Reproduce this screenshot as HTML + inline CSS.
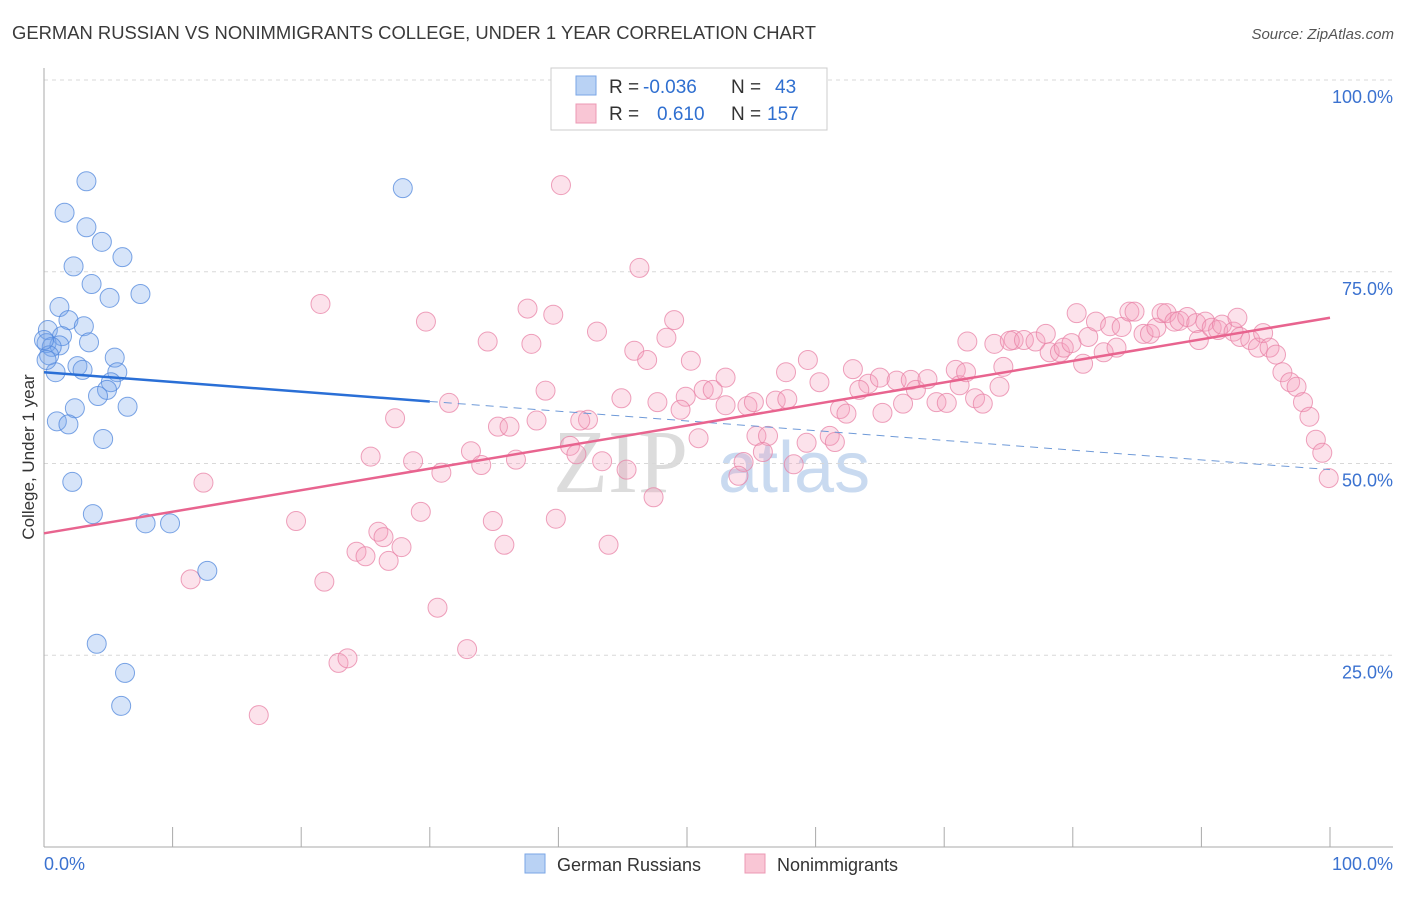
<!DOCTYPE html>
<html><head><meta charset="utf-8"><style>
body{margin:0;background:#fff;font-family:"Liberation Sans",sans-serif;}
</style></head><body>
<svg id="chart" width="1406" height="892" xmlns="http://www.w3.org/2000/svg" font-family="Liberation Sans, sans-serif">
<text x="12" y="39" font-size="18" fill="#3a3a3a" textLength="804" lengthAdjust="spacingAndGlyphs">GERMAN RUSSIAN VS NONIMMIGRANTS COLLEGE, UNDER 1 YEAR CORRELATION CHART</text>
<text x="1394" y="39" font-size="15" fill="#555" font-style="italic" text-anchor="end">Source: ZipAtlas.com</text>
<g>
<text x="553" y="492" font-size="90" fill="#dcdcdc" font-family="Liberation Serif, serif">ZIP</text>
<text x="718" y="492" font-size="72" fill="#c9daf0">atlas</text>
</g>
<g id="grid"></g>
<g id="axes"></g>
<g id="pts"></g>
<g id="lines"></g>
<text transform="translate(34,457) rotate(-90)" font-size="17" fill="#333" text-anchor="middle">College, Under 1 year</text>
<g>
<rect x="551" y="68" width="276" height="62" fill="#fff" stroke="#ccc"/>
<rect x="576" y="76" width="20" height="19" fill="#b9d2f4" stroke="#7aa6e6"/>
<rect x="576" y="104" width="20" height="19" fill="#f9c6d5" stroke="#ec98b4"/>
<text x="609" y="93" font-size="19" fill="#333">R =</text>
<text x="643" y="93" font-size="19" fill="#2f6fd0">-0.036</text>
<text x="731" y="93" font-size="19" fill="#333">N =</text>
<text x="775" y="93" font-size="19" fill="#2f6fd0">43</text>
<text x="609" y="120" font-size="19" fill="#333">R =</text>
<text x="657" y="120" font-size="19" fill="#2f6fd0">0.610</text>
<text x="731" y="120" font-size="19" fill="#333">N =</text>
<text x="767" y="120" font-size="19" fill="#2f6fd0">157</text>
</g>
<g>
<rect x="525" y="854" width="20" height="19" fill="#b9d2f4" stroke="#7aa6e6"/>
<text x="557" y="871" font-size="18" fill="#333">German Russians</text>
<rect x="745" y="854" width="20" height="19" fill="#f9c6d5" stroke="#ec98b4"/>
<text x="777" y="871" font-size="18" fill="#333">Nonimmigrants</text>
</g>
</svg>
<script>
const blueX=[3.3,1.6,3.3,4.5,6.1,2.3,3.7,5.1,7.5,1.2,1.9,3.1,0.3,1.4,0.2,1.2,3.5,0.6,5.5,2.6,0.9,3.0,5.7,5.2,4.9,4.2,2.4,6.5,1.0,1.9,4.6,2.2,3.8,7.9,9.8,12.7,4.1,6.3,6.0,27.9,0.4,0.0,0.2];
const blueY=[86.8,82.7,80.8,78.9,76.9,75.7,73.4,71.6,72.1,70.4,68.7,67.9,67.4,66.6,65.7,65.4,65.8,65.2,63.8,62.7,61.9,62.2,61.9,60.6,59.6,58.8,57.2,57.4,55.5,55.1,53.2,47.6,43.4,42.2,42.2,36.0,26.5,22.7,18.4,85.9,64.1,66.1,63.5];
const pinkX=[40.2,46.3,21.5,29.7,37.6,39.6,49.0,43.0,34.5,37.9,48.4,45.9,46.9,50.3,39.0,27.3,42.3,44.9,47.7,49.9,51.3,52.0,53.0,54.7,56.9,57.8,59.4,60.3,62.9,61.9,62.4,64.1,63.4,65.0,66.3,65.2,66.8,67.4,67.8,68.7,69.4,70.2,70.9,71.2,71.7,72.4,73.0,74.3,74.6,75.4,71.8,73.9,75.1,76.2,77.1,77.9,78.2,79.0,79.3,79.9,80.3,80.8,81.2,81.8,82.4,82.9,83.4,83.8,84.4,84.8,85.5,86.0,86.5,86.9,87.3,87.9,88.3,88.9,89.6,89.8,90.3,90.8,91.3,91.6,92.5,92.8,93.0,93.8,94.4,94.8,95.3,95.8,96.3,96.9,97.4,97.9,98.4,98.9,99.4,99.9,12.4,11.4,16.7,19.6,21.8,22.9,23.6,24.3,25.0,26.0,26.4,26.8,27.8,25.4,28.7,29.3,30.6,30.9,31.5,32.9,33.2,34.0,34.9,35.3,35.8,36.2,36.7,38.3,39.8,40.9,41.4,41.7,43.4,43.9,45.3,47.4,50.9,54.4,54.0,55.4,56.3,55.9,58.3,59.3,61.1,61.5,53.0,55.2,57.7,49.5];
const pinkY=[86.3,75.5,70.8,68.5,70.2,69.4,68.7,67.2,65.9,65.6,66.4,64.7,63.5,63.4,59.5,55.9,55.7,58.5,58.0,58.7,59.6,59.6,57.6,57.5,58.2,58.4,63.5,60.6,62.3,57.1,56.5,60.4,59.6,61.2,60.8,56.6,57.8,60.9,59.6,61.0,58.0,57.9,62.2,60.2,61.9,58.5,57.8,60.0,62.6,66.1,65.9,65.6,66.0,66.1,65.9,66.9,64.5,64.5,65.1,65.7,69.6,63.0,66.5,68.5,64.5,67.9,65.1,67.8,69.8,69.8,66.9,66.9,67.7,69.6,69.6,68.5,68.6,69.1,68.3,66.1,68.5,67.7,67.4,68.1,67.2,69.0,66.5,66.1,65.1,67.0,65.1,64.2,61.9,60.6,60.0,58.0,56.1,53.1,51.4,48.1,47.5,34.9,17.2,42.5,34.6,24.0,24.6,38.5,37.9,41.1,40.4,37.3,39.1,50.9,50.3,43.7,31.2,48.8,57.9,25.8,51.6,49.8,42.5,54.8,39.4,54.8,50.5,55.6,42.8,52.3,51.2,55.6,50.3,39.4,49.2,45.6,53.3,50.2,48.4,53.6,53.6,51.5,49.9,52.7,53.6,52.8,61.2,58.0,61.9,57.0];
const blueTrend=[61.9,49.2];
const pinkTrend=[40.9,69.0];
const yTicks=[25,50,75,100];
const xTicks=[0,10,20,30,40,50,60,70,80,90,100];
const NS='http://www.w3.org/2000/svg';
const sx=v=>44+v*12.86;
const sy=v=>847-v*7.67;
function mk(tag,attrs,parent){const e=document.createElementNS(NS,tag);for(const k in attrs)e.setAttribute(k,attrs[k]);document.getElementById(parent).appendChild(e);return e;}
yTicks.forEach(t=>{
  const g=mk('line',{x1:44,x2:1393,y1:sy(t),y2:sy(t),stroke:'#d8d8d8','stroke-dasharray':'4,4'},'grid');
  
  
  const l=mk('text',{x:1393,y:sy(t)+23,'font-size':18,fill:'#3b72d0','text-anchor':'end'},'grid');
  l.textContent=t.toFixed(1)+'%';
  
  
});
const ya=mk('line',{x1:44,x2:44,y1:68,y2:847,stroke:'#aaa'},'axes');


const xa=mk('line',{x1:44,x2:1393,y1:847,y2:847,stroke:'#aaa'},'axes');


xTicks.forEach(t=>{
  const tk=mk('line',{x1:sx(t),x2:sx(t),y1:827,y2:847,stroke:'#aaa'},'axes');
  
  
});
const xl0=mk('text',{x:44,y:870,'font-size':18,fill:'#3b72d0'},'axes');xl0.textContent='0.0%';


const xl1=mk('text',{x:1393,y:870,'font-size':18,fill:'#3b72d0','text-anchor':'end'},'axes');xl1.textContent='100.0%';


pinkX.forEach((x,i)=>{
  const c=mk('circle',{cx:sx(x),cy:sy(pinkY[i]),r:9.5,fill:'rgba(244,160,188,0.3)',stroke:'rgba(232,130,165,0.75)','stroke-width':1},'pts');
  
  
});
blueX.forEach((x,i)=>{
  const c=mk('circle',{cx:sx(x),cy:sy(blueY[i]),r:9.5,fill:'rgba(120,165,235,0.3)',stroke:'rgba(80,135,220,0.75)','stroke-width':1},'pts');
  
  
});
const by=x=>blueTrend[0]+(blueTrend[1]-blueTrend[0])*x/100;
const bs=mk('line',{x1:sx(0),y1:sy(by(0)),x2:sx(30),y2:sy(by(30)),stroke:'#2a6fd6','stroke-width':2.5},'lines');


const bd=mk('line',{x1:sx(30),y1:sy(by(30)),x2:sx(100),y2:sy(by(100)),stroke:'#6f9ad8','stroke-width':1,'stroke-dasharray':'8,6'},'lines');


const pl=mk('line',{x1:sx(0),y1:sy(pinkTrend[0]),x2:sx(100),y2:sy(pinkTrend[1]),stroke:'#e8648f','stroke-width':2.5},'lines');


</script>
</body></html>
